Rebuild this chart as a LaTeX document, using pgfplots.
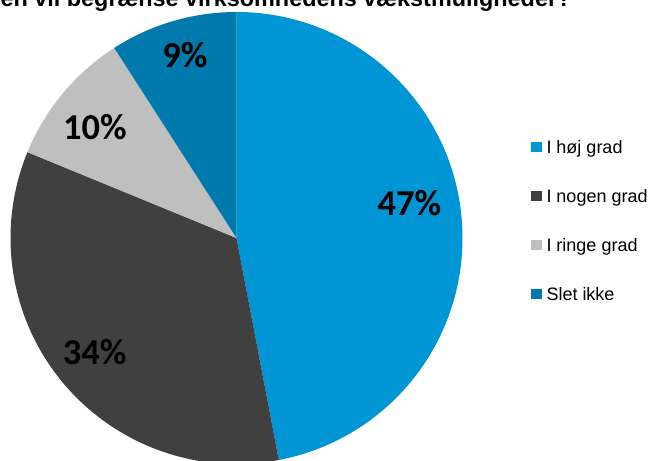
\documentclass[border=0pt]{standalone}
\usepackage{pgfplots}
\usepackage{pgfplotstable}
\pgfplotsset{compat=1.18}
\usepackage{fontspec}
\setmainfont{Liberation Sans}
\newfontfamily\carlito{Carlito}
\definecolor{cblue}{HTML}{0096D6}
\definecolor{cdark}{HTML}{404040}
\definecolor{clight}{HTML}{BFBFBF}
\definecolor{cteal}{HTML}{0079AD}

\pgfplotstableread{
value color
47.0 cblue
34.2 cdark
9.7 clight
9.1 cteal
}\piedata

\begin{document}
\begin{tikzpicture}
\path[use as bounding box] (0,0) rectangle (655bp,461bp);
\clip (0,0) rectangle (655bp,461bp);
\begin{axis}[
  x=1bp, y=1bp,
  xmin=0, xmax=655, ymin=0, ymax=461,
  at={(0,0)}, anchor=south west,
  hide axis, clip=false,
  legend style={
    at={(axis cs:531,320.7)}, anchor=north west,
    draw=none, fill=none, inner sep=0pt, outer sep=0pt,
    font=\fontsize{18bp}{20bp}\selectfont,
    nodes={inner sep=0pt, text height=13bp, text depth=4bp, anchor=base west},
    row sep=32bp,
    /tikz/every odd column/.append style={column sep=5bp},
  },
  legend cell align=left,
  legend image code/.code={\fill[#1, draw=none] (0bp,1bp) rectangle (10.5bp,11.5bp);},
]
\def\cum{0}
\pgfplotsforeachungrouped \i in {0,...,3}{%
  \pgfplotstablegetelem{\i}{value}\of\piedata \let\v\pgfplotsretval
  \pgfplotstablegetelem{\i}{color}\of\piedata \let\c\pgfplotsretval
  \pgfmathsetmacro\sa{90-3.6*\cum}%
  \pgfmathsetmacro\ea{90-3.6*(\cum+\v)}%
  \pgfmathsetmacro\cum{\cum+\v}%
  \edef\temp{\noexpand\fill[\c] (axis cs:236.5,223) -- ++(\sa:226bp) arc[start angle=\sa, end angle=\ea, radius=226bp] -- cycle;}%
  \temp
}
\addlegendimage{draw=none, fill=cblue}
\addlegendentry{I høj grad}
\addlegendimage{draw=none, fill=cdark}
\addlegendentry{I nogen grad}
\addlegendimage{draw=none, fill=clight}
\addlegendentry{I ringe grad}
\addlegendimage{draw=none, fill=cteal}
\addlegendentry{Slet ikke}
\begin{scope}[font=\carlito\bfseries\fontsize{36.5bp}{40bp}\selectfont]
\node at (axis cs:409.5,258.3) {47\%};
\node at (axis cs:94.7,109) {34\%};
\node at (axis cs:95,334.3) {10\%};
\node at (axis cs:185,406) {9\%};
\end{scope}
\node[anchor=base east, font=\bfseries\fontsize{23.4bp}{28bp}\selectfont] at (axis cs:575,454.3) {en vil begrænse virksomhedens vækstmuligheder?};
\end{axis}
\end{tikzpicture}
\end{document}
